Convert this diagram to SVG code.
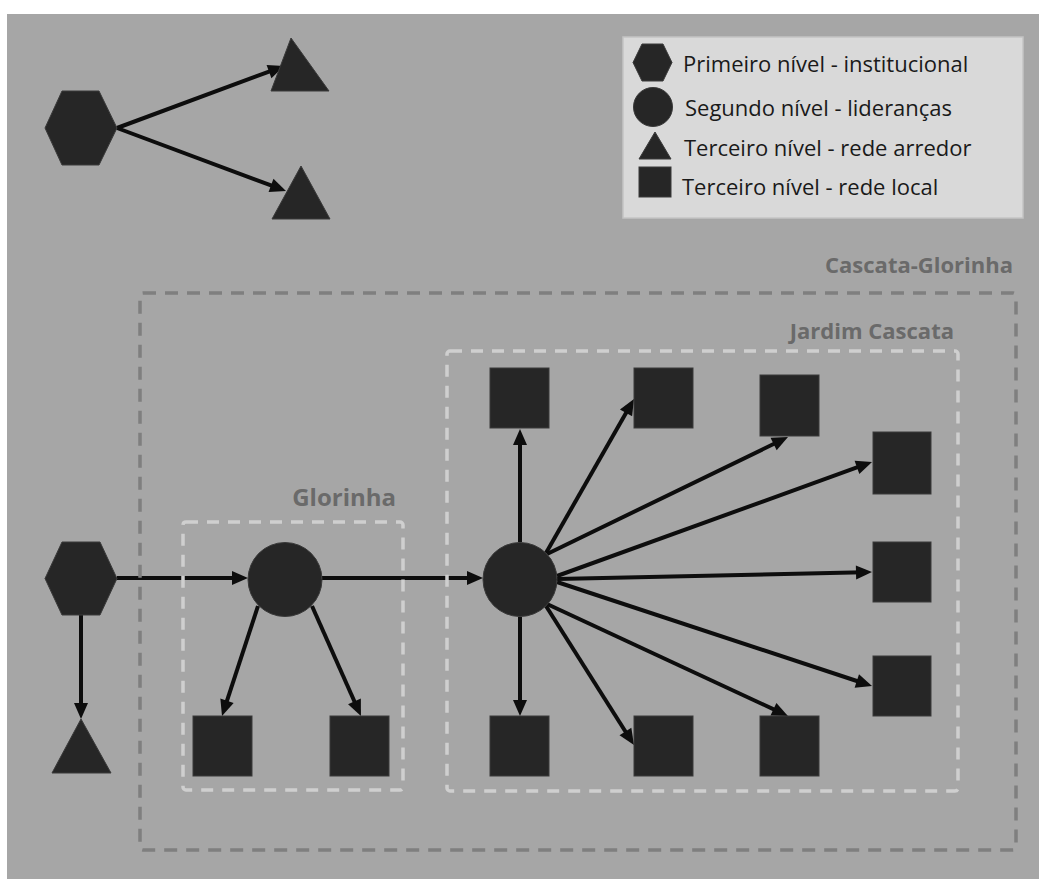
<svg xmlns="http://www.w3.org/2000/svg" width="1039" height="879" viewBox="0 0 1039 879">
<style>
.bg{fill:#a6a6a6}
.node{fill:#262626;stroke:#3a3a3a;stroke-width:1}
.edge{fill:none;stroke:#0d0d0d;stroke-width:4}
.outer{fill:none;stroke:#7f7f7f;stroke-width:3.5;stroke-dasharray:13 9}
.inner{fill:none;stroke:#cfcfcf;stroke-width:3.5;stroke-dasharray:12 9}
.grp{font-family:"Open Sans","Liberation Sans",sans-serif;font-weight:bold;fill:#6a6a6a}
.leg{font-family:"Open Sans","Liberation Sans",sans-serif;font-size:22px;fill:#1a1a1a}
</style>
<defs>
<marker id="arr" markerUnits="userSpaceOnUse" markerWidth="16" markerHeight="14" refX="8" refY="7" orient="auto" overflow="visible">
<path d="M0,0 L16,7 L0,14 z" fill="#0d0d0d"/>
</marker>
</defs>
<rect x="7" y="14" width="1032" height="865" class="bg"/>

<g id="legend">
<rect x="623" y="37" width="400" height="181" fill="#d9d9d9" stroke="#c4c4c4" stroke-width="1.5"/>
<polygon class="node" points="633,62.5 642,44 663,44 672,62.5 663,81 642,81"/>
<circle class="node" cx="653" cy="107" r="19.5"/>
<polygon class="node" points="655,132 671,159 639,159"/>
<rect class="node" x="639" y="167" width="32" height="30"/>
<text class="leg" x="683" y="72">Primeiro nível - institucional</text>
<text class="leg" x="685" y="116">Segundo nível - lideranças</text>
<text class="leg" x="684" y="156">Terceiro nível - rede arredor</text>
<text class="leg" x="682" y="195">Terceiro nível - rede local</text>
</g>

<g id="connectors">
<line class="edge" x1="117" y1="128" x2="276.5" y2="68.8" marker-end="url(#arr)"/>
<line class="edge" x1="117" y1="128" x2="278.5" y2="188.2" marker-end="url(#arr)"/>
<line class="edge" x1="81" y1="615" x2="81" y2="711" marker-end="url(#arr)"/>
<line class="edge" x1="117" y1="578" x2="240" y2="578" marker-end="url(#arr)"/>
<line class="edge" x1="322" y1="578" x2="475" y2="578" marker-end="url(#arr)"/>
<line class="edge" x1="258" y1="606" x2="224.5" y2="708.4" marker-end="url(#arr)"/>
<line class="edge" x1="312" y1="606" x2="357.7" y2="708.7" marker-end="url(#arr)"/>
<line class="edge" x1="520" y1="542" x2="520" y2="437" marker-end="url(#arr)"/>
<line class="edge" x1="546" y1="553" x2="630" y2="405.9" marker-end="url(#arr)"/>
<line class="edge" x1="547" y1="554" x2="780.8" y2="440.5" marker-end="url(#arr)"/>
<line class="edge" x1="557" y1="576" x2="864.5" y2="464.7" marker-end="url(#arr)"/>
<line class="edge" x1="557" y1="579" x2="864" y2="572.2" marker-end="url(#arr)"/>
<line class="edge" x1="557" y1="582" x2="864.4" y2="683.5" marker-end="url(#arr)"/>
<line class="edge" x1="547" y1="604" x2="780.7" y2="712.6" marker-end="url(#arr)"/>
<line class="edge" x1="546" y1="606" x2="629.7" y2="738.2" marker-end="url(#arr)"/>
<line class="edge" x1="520" y1="617" x2="520" y2="708" marker-end="url(#arr)"/>
</g>

<g id="group-cascata-glorinha">
<rect class="outer" x="140" y="293" width="876" height="557" rx="3"/>
<text class="grp" x="1013" y="273" font-size="22" text-anchor="end">Cascata-Glorinha</text>
</g>
<g id="group-glorinha">
<rect class="inner" x="183" y="522" width="220" height="268" rx="3"/>
<text class="grp" x="396" y="506" font-size="24" text-anchor="end">Glorinha</text>
</g>
<g id="group-jardim-cascata">
<rect class="inner" x="447" y="351" width="511" height="440" rx="3"/>
<text class="grp" x="954" y="339" font-size="22" text-anchor="end">Jardim Cascata</text>
</g>

<g id="top-hex"><polygon class="node" points="45,128 62,91 99,91 117,128 99,165 62,165"/></g>
<g id="top-tri-1"><polygon class="node" points="291,38 329,91 271,91"/></g>
<g id="top-tri-2"><polygon class="node" points="301,166 330,219 272,219"/></g>

<g id="hex"><polygon class="node" points="45,578.5 62,542 100,542 117,578.5 100,615 62,615"/></g>
<g id="tri"><polygon class="node" points="81,719 111,773 52,773"/></g>
<g id="glorinha-circle"><circle class="node" cx="285" cy="579.5" r="37"/></g>
<g id="glorinha-sq-1"><rect class="node" x="193" y="716" width="59" height="60"/></g>
<g id="glorinha-sq-2"><rect class="node" x="330" y="716" width="59" height="60"/></g>

<g id="jardim-circle"><circle class="node" cx="520" cy="579.5" r="37"/></g>
<g id="jc-sq-top-1"><rect class="node" x="490" y="368" width="59" height="60"/></g>
<g id="jc-sq-top-2"><rect class="node" x="634" y="368" width="59" height="60"/></g>
<g id="jc-sq-top-3"><rect class="node" x="760" y="375" width="59" height="61"/></g>
<g id="jc-sq-right-1"><rect class="node" x="873" y="432" width="58" height="62"/></g>
<g id="jc-sq-right-2"><rect class="node" x="873" y="542" width="58" height="60"/></g>
<g id="jc-sq-right-3"><rect class="node" x="873" y="656" width="58" height="60"/></g>
<g id="jc-sq-bottom-1"><rect class="node" x="490" y="716" width="59" height="60"/></g>
<g id="jc-sq-bottom-2"><rect class="node" x="634" y="716" width="59" height="60"/></g>
<g id="jc-sq-bottom-3"><rect class="node" x="760" y="716" width="59" height="60"/></g>
</svg>
